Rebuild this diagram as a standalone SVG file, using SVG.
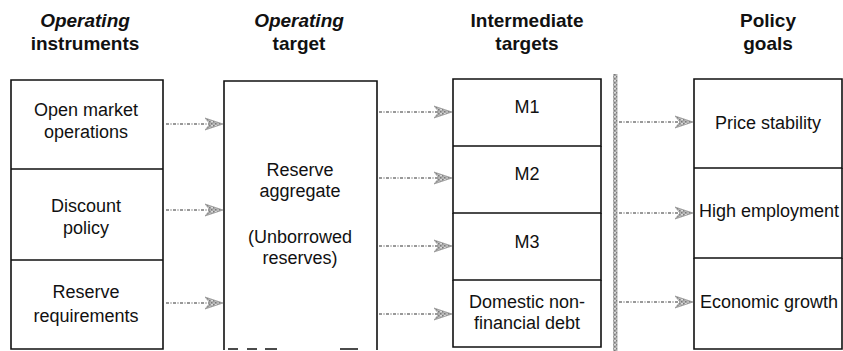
<svg xmlns="http://www.w3.org/2000/svg" width="843" height="351" viewBox="0 0 843 351">
  <defs>
    <style>
      .hdr { font-family: "Liberation Sans", Arial, sans-serif; font-weight: bold; font-size: 19px; fill: #111; text-anchor: middle; }
      .hdr-i { font-style: italic; }
      .lbl { font-family: "Liberation Sans", Arial, sans-serif; font-size: 18px; fill: #111; text-anchor: middle; }
      .edge { stroke: #111; stroke-width: 1.6; fill: none; }
      .arrow { stroke: #999; stroke-width: 2.2; stroke-dasharray: 3 1.5 1 1.5; fill: none; marker-end: url(#head); }
    </style>
    <pattern id="speckle" width="4" height="4" patternUnits="userSpaceOnUse">
      <rect width="4" height="4" fill="#b8b8b8"/>
      <rect x="0" y="0" width="1.5" height="1.5" fill="#7a7a7a"/>
      <rect x="2" y="2" width="1.5" height="1.5" fill="#7a7a7a"/>
      <rect x="2.5" y="0" width="1" height="1" fill="#fff"/>
    </pattern>
    <marker id="head" viewBox="0 0 18 14" refX="17" refY="7" markerWidth="18" markerHeight="14" markerUnits="userSpaceOnUse" orient="auto">
      <path d="M0,1 L18,7 L0,13 L5,7 Z" fill="url(#speckle)" stroke="#999" stroke-width="0.8"/>
    </marker>
  </defs>

  <rect width="843" height="351" fill="#fff"/>

  <!-- column headings -->
  <g id="headings">
    <text class="hdr hdr-i" x="85" y="27">Operating</text>
    <text class="hdr" x="85" y="50">instruments</text>
    <text class="hdr hdr-i" x="299" y="27">Operating</text>
    <text class="hdr" x="299" y="50">target</text>
    <text class="hdr" x="527" y="27">Intermediate</text>
    <text class="hdr" x="527" y="50">targets</text>
    <text class="hdr" x="768" y="27">Policy</text>
    <text class="hdr" x="768" y="50">goals</text>
  </g>

  <!-- operating instruments -->
  <g id="open-market">
    <path class="edge" d="M11,169 L11,80 L163,80 L163,169"/>
    <text class="lbl" x="86" y="116">Open market</text>
    <text class="lbl" x="86" y="138">operations</text>
  </g>
  <g id="discount-policy">
    <path class="edge" d="M11,169 L11,260 M163,169 L163,260 M11,169 L163,169"/>
    <text class="lbl" x="86" y="212">Discount</text>
    <text class="lbl" x="86" y="234">policy</text>
  </g>
  <g id="reserve-requirements">
    <path class="edge" d="M11,260 L163,260 M11,260 L11,349 L163,349 L163,260"/>
    <text class="lbl" x="86" y="298">Reserve</text>
    <text class="lbl" x="86" y="322">requirements</text>
  </g>

  <!-- operating target -->
  <g id="reserve-aggregate">
    <path class="edge" d="M224,350 L224,81 L377,81 L377,350"/>
    <path class="edge" d="M228,349 L238,349 M247,349 L257,349 M265,349 L277,349 M340,349 L358,349"/>
    <text class="lbl" x="300" y="176">Reserve</text>
    <text class="lbl" x="300" y="197">aggregate</text>
    <text class="lbl" x="300" y="243">(Unborrowed</text>
    <text class="lbl" x="300" y="264">reserves)</text>
  </g>

  <!-- intermediate targets -->
  <g id="m1">
    <path class="edge" d="M453,146 L453,79 L601,79 L601,146 L453,146"/>
    <text class="lbl" x="527" y="113">M1</text>
  </g>
  <g id="m2">
    <path class="edge" d="M453,146 L453,213 L601,213 L601,146"/>
    <text class="lbl" x="527" y="180">M2</text>
  </g>
  <g id="m3">
    <path class="edge" d="M453,213 L453,280 L601,280 L601,213"/>
    <text class="lbl" x="527" y="248">M3</text>
  </g>
  <g id="domestic-debt">
    <path class="edge" d="M453,280 L453,347 L601,347 L601,280"/>
    <text class="lbl" x="527" y="308">Domestic non-</text>
    <text class="lbl" x="527" y="329">financial debt</text>
  </g>

  <!-- policy goals -->
  <g id="price-stability">
    <path class="edge" d="M694,168 L694,79 L842,79 L842,168 L694,168"/>
    <text class="lbl" x="768" y="129">Price stability</text>
  </g>
  <g id="high-employment">
    <path class="edge" d="M694,168 L694,258 L842,258 L842,168"/>
    <text class="lbl" x="769" y="217">High employment</text>
  </g>
  <g id="economic-growth">
    <path class="edge" d="M694,258 L694,349 L842,349 L842,258"/>
    <text class="lbl" x="769" y="308">Economic growth</text>
  </g>

  <!-- separator bar before the goals -->
  <g id="separator">
    <rect x="613" y="74" width="4.5" height="277" fill="url(#speckle)"/>
  </g>

  <!-- connectors -->
  <g id="connectors">
    <path class="arrow" d="M166,124 L222,124"/>
    <path class="arrow" d="M166,210 L222,210"/>
    <path class="arrow" d="M166,303 L222,303"/>
    <path class="arrow" d="M379,112 L451,112"/>
    <path class="arrow" d="M379,178 L451,178"/>
    <path class="arrow" d="M379,246 L451,246"/>
    <path class="arrow" d="M379,314 L451,314"/>
    <path class="arrow" d="M619,122 L692,122"/>
    <path class="arrow" d="M619,213 L692,213"/>
    <path class="arrow" d="M619,302 L692,302"/>
  </g>
</svg>
